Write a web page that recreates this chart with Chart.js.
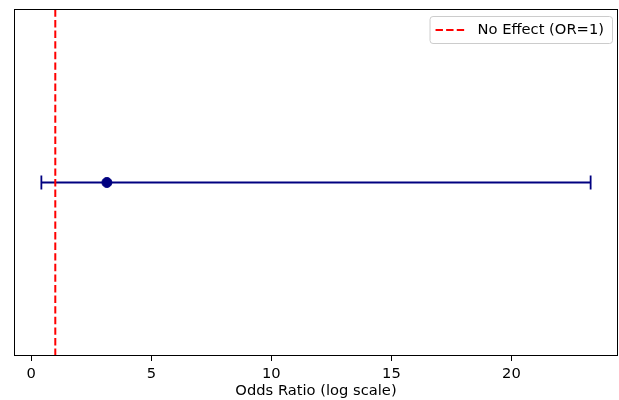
<!DOCTYPE html>
<html>
<head>
<meta charset="utf-8">
<script src="https://cdn.jsdelivr.net/npm/chart.js@4"></script>
<style>
  html, body { margin: 0; padding: 0; background: #fff; }
  #wrap { width: 619px; height: 400px; }
</style>
</head>
<body>
<div id="wrap"><canvas id="myChart"></canvas></div>
<script>
// values
const oddsRatio = 3.15;
const ciLow = 0.42;
const ciHigh = 23.3;
const noEffect = 1;
const xTicks = [0, 5, 10, 15, 20];
const legendLabel = "No Effect (OR=1)";
const axisTitle = "Odds Ratio (log scale)";

const FONT = "'DejaVu Sans', sans-serif";
const FSIZE = 14.7;

// matplotlib-style box around the axes and a framed legend inside the plot
const framePlugin = {
  id: "frame",
  afterDraw(chart) {
    const ctx = chart.ctx;
    const a = chart.chartArea;
    ctx.save();
    ctx.strokeStyle = "#000";
    ctx.lineWidth = 1;
    ctx.strokeRect(a.left + 0.5, a.top + 0.5, a.right - a.left - 1, a.bottom - a.top - 1);

    // legend
    const ds = chart.data.datasets[0];
    ctx.font = FSIZE + "px " + FONT;
    const tw = ctx.measureText(ds.label).width;
    const bw = 48 + tw + 8;
    const bh = 27;
    const bx = a.right - 6 - bw;
    const by = a.top + 7;
    ctx.beginPath();
    ctx.roundRect(bx + 0.5, by + 0.5, bw, bh, 3);
    ctx.fillStyle = "rgba(255,255,255,0.8)";
    ctx.fill();
    ctx.strokeStyle = "#cccccc";
    ctx.stroke();

    ctx.strokeStyle = ds.borderColor;
    ctx.lineWidth = ds.borderWidth;
    ctx.setLineDash(ds.borderDash);
    ctx.beginPath();
    ctx.moveTo(bx + 6, by + bh / 2 + 0.5);
    ctx.lineTo(bx + 36, by + bh / 2 + 0.5);
    ctx.stroke();
    ctx.setLineDash([]);

    ctx.fillStyle = "#000";
    ctx.textBaseline = "middle";
    ctx.fillText(ds.label, bx + 48, by + bh / 2 + 1);
    ctx.restore();
  }
};

const ctx = document.getElementById("myChart");

new Chart(ctx, {
  type: "scatter",
  data: {
    datasets: [
      {
        type: "line",
        label: legendLabel,
        data: [{ x: noEffect, y: -1 }, { x: noEffect, y: 1 }],
        borderColor: "red",
        borderWidth: 2,
        borderDash: [7.4, 3.2],
        pointRadius: 0,
        order: 1,
      },
      {
        type: "line",
        label: "CI",
        data: [{ x: ciLow, y: 0 }, { x: ciHigh, y: 0 }],
        borderColor: "#000080",
        borderWidth: 1.8,
        pointStyle: "line",
        pointRotation: 90,
        pointRadius: 7,
        pointBorderColor: "#000080",
        pointBorderWidth: 1.8,
        order: 2,
      },
      {
        label: "OR",
        data: [{ x: oddsRatio, y: 0 }],
        backgroundColor: "#000080",
        borderColor: "#000080",
        pointRadius: 5,
        borderWidth: 1,
        order: 0,
      },
    ],
  },
  options: {
    responsive: true,
    maintainAspectRatio: false,
    animation: false,
    layout: {
      autoPadding: false,
      padding: { left: 14, top: 9, right: 1, bottom: 0 },
    },
    scales: {
      x: {
        type: "linear",
        min: -0.72,
        max: 24.44,
        afterBuildTicks: (scale) => {
          scale.ticks = xTicks.map((v) => ({ value: v }));
        },
        afterFit: (scale) => {
          scale.height = 44;
        },
        grid: {
          drawOnChartArea: false,
          drawTicks: true,
          tickLength: 5,
          color: "#000",
        },
        border: { display: false },
        ticks: {
          color: "#000",
          padding: 4,
          font: { family: FONT, size: FSIZE },
          maxRotation: 0,
        },
        title: {
          display: true,
          text: axisTitle,
          color: "#000",
          font: { family: FONT, size: FSIZE },
          padding: { top: 4, bottom: 0 },
        },
      },
      y: {
        display: false,
        min: -1,
        max: 1,
      },
    },
    plugins: {
      legend: { display: false },
      tooltip: { enabled: false },
    },
  },
  plugins: [framePlugin],
});
</script>
</body>
</html>
